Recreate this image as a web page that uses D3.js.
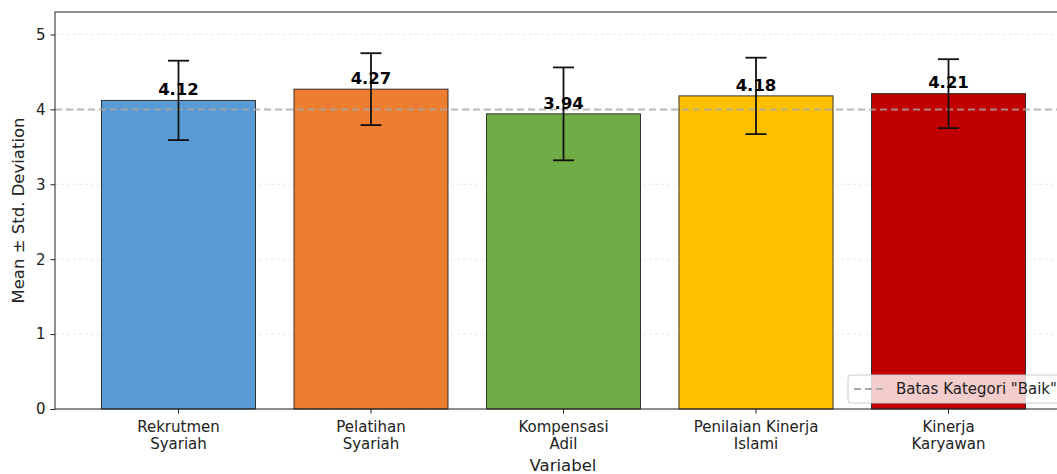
<!DOCTYPE html>
<html>
<head>
<meta charset="utf-8">
<script src="https://cdn.jsdelivr.net/npm/d3@7"></script>
<style>
  html, body { margin: 0; padding: 0; background: #fff; overflow: hidden; }
  svg { display: block; font-family: "DejaVu Sans", sans-serif; }
</style>
</head>
<body>
<svg id="chart" width="1057" height="474"></svg>
<script>
const categories = [["Rekrutmen", "Syariah"], ["Pelatihan", "Syariah"], ["Kompensasi", "Adil"], ["Penilaian Kinerja", "Islami"], ["Kinerja", "Karyawan"]];
const means = [4.12, 4.27, 3.94, 4.18, 4.21];
const stds = [0.53, 0.48, 0.62, 0.51, 0.46];
const colors = ["#5B9BD5", "#ED7D31", "#70AD47", "#FFC000", "#C00000"];
const yTicks = [0, 1, 2, 3, 4, 5];
const threshold = 4;
const legendLabel = 'Batas Kategori "Baik"';
const xTitle = "Variabel";
const yTitle = "Mean \u00b1 Std. Deviation";

const svg = d3.select("#chart");
const L = 55, R = 1072, T = 12, B = 409;

const keys = categories.map((c, i) => i);
const x = d3.scaleBand().domain(keys).range([L, R]).paddingInner(0.2).paddingOuter(0.2415);
const y = d3.scaleLinear().domain([0, 5.3]).range([B, T]);

// grid
svg.append("g").selectAll("line").data(yTicks).join("line")
  .attr("x1", L).attr("x2", R)
  .attr("y1", d => y(d)).attr("y2", d => y(d))
  .attr("stroke", "#b0b0b0").attr("stroke-opacity", 0.35)
  .attr("stroke-width", 0.8).attr("stroke-dasharray", "3,3");

// bars
svg.append("g").selectAll("rect").data(means).join("rect")
  .attr("x", (d, i) => x(i)).attr("width", x.bandwidth())
  .attr("y", d => y(d)).attr("height", d => B - y(d))
  .attr("fill", (d, i) => colors[i])
  .attr("stroke", "#222").attr("stroke-width", 0.9);

// threshold line
svg.append("line")
  .attr("x1", L).attr("x2", R)
  .attr("y1", y(threshold)).attr("y2", y(threshold))
  .attr("stroke", "#a8a8a8").attr("stroke-opacity", 0.8)
  .attr("stroke-width", 2).attr("stroke-dasharray", "7,4");

// error bars
const eb = svg.append("g").attr("stroke", "#111").attr("stroke-width", 1.8);
means.forEach((m, i) => {
  const cx = x(i) + x.bandwidth() / 2;
  eb.append("line").attr("x1", cx).attr("x2", cx).attr("y1", y(m + stds[i])).attr("y2", y(m - stds[i]));
  [m + stds[i], m - stds[i]].forEach(v => {
    eb.append("line").attr("x1", cx - 10.5).attr("x2", cx + 10.5).attr("y1", y(v)).attr("y2", y(v));
  });
});

// value labels
svg.append("g").selectAll("text").data(means).join("text")
  .attr("x", (d, i) => x(i) + x.bandwidth() / 2)
  .attr("y", d => y(d + 0.05) - 1.5)
  .attr("text-anchor", "middle")
  .attr("font-size", 16.5).attr("font-weight", "bold").attr("fill", "#000")
  .text(d => d.toFixed(2));

// frame
svg.append("rect").attr("x", L).attr("y", T).attr("width", R - L).attr("height", B - T)
  .attr("fill", "none").attr("stroke", "#222").attr("stroke-width", 1);

// y axis
const ya = svg.append("g").attr("transform", `translate(${L},0)`)
  .call(d3.axisLeft(y).tickValues(yTicks).tickSize(4.5).tickPadding(5).tickFormat(d3.format("d")));
ya.select(".domain").remove();
ya.selectAll("line").attr("stroke", "#222");
ya.selectAll("text").attr("font-size", 15).attr("fill", "#222").attr("font-family", "DejaVu Sans");

// x axis
const xa = svg.append("g").attr("transform", `translate(0,${B})`)
  .call(d3.axisBottom(x).tickSize(4.5).tickFormat(""));
xa.select(".domain").remove();
xa.selectAll("line").attr("stroke", "#222");
xa.selectAll(".tick").each(function(d) {
  const t = d3.select(this).append("text")
    .attr("text-anchor", "middle").attr("font-size", 15).attr("fill", "#222")
    .attr("font-family", "DejaVu Sans");
  categories[d].forEach((s, j) => {
    t.append("tspan").attr("x", 0).attr("y", 22.5 + j * 17).text(s);
  });
});

// axis titles
svg.append("text").attr("x", 563).attr("y", 471)
  .attr("text-anchor", "middle").attr("font-size", 16.5).attr("fill", "#222").text(xTitle);
svg.append("text").attr("transform", `translate(24,${(T + B) / 2}) rotate(-90)`)
  .attr("text-anchor", "middle").attr("font-size", 16.5).attr("fill", "#222").text(yTitle);

// legend
const lg = svg.append("g").attr("transform", "translate(848,375)");
lg.append("rect").attr("x", 0).attr("y", 0).attr("width", 240).attr("height", 28).attr("rx", 3)
  .attr("fill", "#fff").attr("fill-opacity", 0.8).attr("stroke", "#ccc").attr("stroke-width", 1);
lg.append("line").attr("x1", 6).attr("x2", 35).attr("y1", 14).attr("y2", 14)
  .attr("stroke", "#a8a8a8").attr("stroke-width", 2).attr("stroke-dasharray", "7,4");
lg.append("text").attr("x", 48).attr("y", 19).attr("font-size", 15).attr("fill", "#222").text(legendLabel);
</script>
</body>
</html>
